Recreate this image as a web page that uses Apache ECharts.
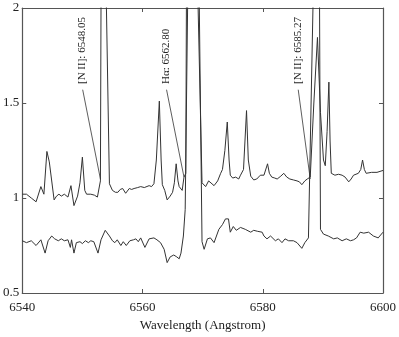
<!DOCTYPE html>
<html>
<head>
<meta charset="utf-8">
<script src="https://cdn.jsdelivr.net/npm/echarts@6/dist/echarts.min.js"></script>
<style>
  html, body { margin: 0; padding: 0; background: #fff; }
  #chart { width: 399px; height: 337px; }
</style>
</head>
<body>
<div id="chart"></div>
<script>
// upper spectrum (offset), wavelength in Angstrom and relative flux
const upperWave = [
  6540.0, 6540.7, 6541.5, 6542.3, 6543.1, 6543.6, 6544.1, 6544.5, 6544.8, 6545.3,
  6545.7, 6546.1, 6546.5, 6547.0, 6547.6, 6548.1, 6548.6, 6549.2, 6549.6, 6550.0,
  6550.4, 6550.7, 6551.4, 6552.0, 6552.5, 6553.0, 6553.1, 6553.5, 6554.0, 6554.5,
  6555.0, 6555.5, 6555.9, 6556.3, 6556.7, 6557.2, 6557.8, 6558.2, 6558.6, 6559.2,
  6559.7, 6560.3, 6561.1, 6561.5, 6561.9, 6562.3, 6562.8, 6563.1, 6563.3, 6563.7,
  6564.1, 6564.6, 6565.0, 6565.3, 6565.6, 6565.9, 6566.1, 6566.6, 6566.9, 6567.2,
  6567.3, 6568.3, 6569.25, 6569.9, 6570.2, 6570.5, 6571.0, 6571.3, 6571.9, 6572.5,
  6573.0, 6573.3, 6573.7, 6574.1, 6574.4, 6574.6, 6575.0, 6575.5, 6576.0, 6576.3,
  6576.8, 6577.3, 6577.6, 6578.0, 6578.5, 6579.0, 6579.6, 6580.2, 6580.8, 6581.1,
  6581.5, 6582.0, 6582.4, 6583.0, 6583.5, 6584.0, 6584.5, 6585.1, 6585.7, 6586.1,
  6586.5, 6587.0, 6587.4, 6587.9, 6588.5, 6589.1, 6589.6, 6590.1, 6590.4, 6590.7,
  6591.0, 6591.2, 6591.4, 6592.0, 6592.6, 6593.2, 6593.7, 6594.3, 6594.7, 6595.1,
  6595.9, 6596.3, 6596.6, 6596.9, 6597.2, 6598.1, 6599.0, 6600.0
];
const upperFlux = [
  1.02, 1.02, 1.00, 0.98, 1.06, 1.02, 1.245, 1.19, 1.20, 0.99,
  1.01, 1.02, 1.01, 1.02, 1.005, 1.065, 0.96, 1.01, 1.08, 1.215,
  1.04, 1.02, 1.02, 1.015, 1.005, 1.09, 2.0, 2.6, 2.0, 1.075,
  1.04, 1.03, 1.03, 1.045, 1.05, 1.025, 1.05, 1.045, 1.05, 1.055,
  1.06, 1.055, 1.065, 1.06, 1.075, 1.2, 1.51, 1.2, 1.07, 1.04,
  0.99, 1.01, 1.03, 1.08, 1.18, 1.09, 1.06, 1.04, 1.11, 1.13,
  2.0, 3.0, 2.0, 1.08, 1.07, 1.06, 1.09, 1.08, 1.065, 1.09,
  1.13, 1.15, 1.25, 1.40, 1.2, 1.12, 1.105, 1.11, 1.10, 1.12,
  1.15, 1.46, 1.2, 1.115, 1.095, 1.10, 1.12, 1.12, 1.18, 1.13,
  1.11, 1.105, 1.10, 1.115, 1.13, 1.11, 1.10, 1.095, 1.09, 1.085,
  1.07, 1.09, 1.10, 1.11, 1.5, 1.845, 1.45, 1.20, 1.17, 1.35,
  1.61, 1.30, 1.13, 1.12, 1.125, 1.12, 1.11, 1.085, 1.10, 1.12,
  1.13, 1.15, 1.20, 1.15, 1.13, 1.135, 1.135, 1.145
];

// lower spectrum
const lowerWave = [
  6540.0, 6540.7, 6541.5, 6542.3, 6543.1, 6543.8, 6544.3, 6544.9, 6545.4, 6546.0,
  6546.5, 6547.0, 6547.6, 6548.0, 6548.2, 6548.6, 6549.0, 6549.6, 6550.0, 6550.5,
  6551.0, 6551.4, 6551.9, 6552.2, 6552.6, 6553.1, 6553.8, 6554.5, 6555.0, 6555.4,
  6555.8, 6556.4, 6556.8, 6557.3, 6557.9, 6558.5, 6558.9, 6559.3, 6559.7, 6560.4,
  6561.1, 6561.9, 6562.4, 6563.0, 6563.6, 6564.1, 6564.6, 6565.2, 6565.7, 6566.1,
  6566.4, 6566.8, 6567.1, 6567.5, 6568.4, 6569.45, 6569.9, 6570.25, 6570.8, 6571.3,
  6571.9, 6572.7, 6573.3, 6573.8, 6574.3, 6574.6, 6575.1, 6575.6, 6576.3, 6577.1,
  6577.4, 6578.0, 6578.5, 6579.1, 6579.9, 6580.2, 6580.7, 6581.3, 6582.1, 6582.6,
  6583.2, 6583.7, 6584.3, 6585.1, 6585.7, 6586.5, 6587.0, 6587.6, 6588.35, 6588.9,
  6589.45, 6589.6, 6590.1, 6590.9, 6591.8, 6592.4, 6593.2, 6593.9, 6594.6, 6595.1,
  6595.6, 6596.2, 6596.8, 6597.6, 6598.4, 6599.2, 6600.0
];
const lowerFlux = [
  0.775, 0.765, 0.775, 0.75, 0.78, 0.71, 0.775, 0.80, 0.785, 0.775,
  0.785, 0.775, 0.78, 0.74, 0.78, 0.71, 0.765, 0.77, 0.76, 0.775,
  0.765, 0.775, 0.77, 0.78, 0.71, 0.78, 0.83, 0.80, 0.775, 0.765,
  0.78, 0.75, 0.77, 0.75, 0.775, 0.78, 0.785, 0.77, 0.79, 0.74,
  0.785, 0.79, 0.78, 0.765, 0.73, 0.66, 0.69, 0.70, 0.69, 0.68,
  0.71, 0.80, 0.94, 2.0, 3.0, 2.0, 0.77, 0.73, 0.785, 0.79,
  0.765, 0.835, 0.86, 0.89, 0.89, 0.82, 0.85, 0.83, 0.845, 0.835,
  0.845, 0.82, 0.83, 0.825, 0.82, 0.80, 0.785, 0.80, 0.775, 0.785,
  0.765, 0.785, 0.775, 0.775, 0.765, 0.735, 0.765, 0.79, 2.0, 2.6,
  2.0, 0.835, 0.81, 0.80, 0.785, 0.79, 0.775, 0.785, 0.775, 0.78,
  0.79, 0.82, 0.815, 0.82, 0.80, 0.79, 0.82
];

// line annotations: label, label anchor (wavelength, flux), arrow tip (wavelength, flux)
const lineLabels = ['[N II]: 6548.05', 'H\u03b1: 6562.80', '[N II]: 6585.27'];
const labelWave = [6549.95, 6563.9, 6585.8];
const labelFlux = [1.60, 1.60, 1.60];
const tipWave = [6553.0, 6566.9, 6587.9];
const tipFlux = [1.10, 1.11, 1.10];

const xTicks = [6540, 6560, 6580, 6600];
const yTicks = [0.5, 1, 1.5, 2];

const zip = (a, b) => a.map((v, i) => [v, b[i]]);

const font = '"Liberation Serif", "DejaVu Serif", serif';
const ink = '#222';
const frame = '#555';

let myChart = echarts.init(document.getElementById('chart'), null, { renderer: 'canvas' });

const axisCommon = {
  axisLine: { show: true, onZero: false, lineStyle: { color: frame, width: 1.2 } },
  axisTick: { show: true, inside: true, length: 4, lineStyle: { color: frame } },
  splitLine: { show: false },
};

let option = {
  animation: false,
  backgroundColor: '#fff',
  grid: { left: 21, right: 16, top: 8, bottom: 39 },
  xAxis: [
    {
      ...axisCommon,
      type: 'value', min: xTicks[0], max: xTicks[xTicks.length - 1], interval: 20,
      position: 'bottom',
      axisLabel: {
        color: ink, fontFamily: font, fontSize: 13, margin: 8,
        formatter: (v) => String(v),
      },
      name: 'Wavelength (Angstrom)', nameLocation: 'middle', nameGap: 26,
      nameTextStyle: { color: ink, fontFamily: font, fontSize: 13 },
    },
    {
      ...axisCommon,
      type: 'value', min: xTicks[0], max: xTicks[xTicks.length - 1], interval: 20,
      position: 'top', axisLabel: { show: false },
    },
  ],
  yAxis: [
    {
      ...axisCommon,
      type: 'value', min: yTicks[0], max: yTicks[yTicks.length - 1], interval: 0.5,
      position: 'left',
      axisLabel: { color: ink, fontFamily: font, fontSize: 13, margin: 3 },
    },
    {
      ...axisCommon,
      type: 'value', min: yTicks[0], max: yTicks[yTicks.length - 1], interval: 0.5,
      position: 'right', axisLabel: { show: false },
    },
  ],
  series: [
    {
      type: 'line', name: 'upper', data: zip(upperWave, upperFlux),
      showSymbol: false, symbol: 'none', clip: true,
      lineStyle: { color: '#333', width: 1 },
      markLine: {
        silent: true, symbol: ['none', 'arrow'], symbolSize: [0, 6],
        lineStyle: { color: '#333', width: 0.8, type: 'solid' },
        label: { show: false },
        data: lineLabels.map((t, i) => [
          { coord: [labelWave[i] + 0.1, labelFlux[i] - 0.03] },
          { coord: [tipWave[i], tipFlux[i]] },
        ]),
      },
    },
    {
      type: 'line', name: 'lower', data: zip(lowerWave, lowerFlux),
      showSymbol: false, symbol: 'none', clip: true,
      lineStyle: { color: '#333', width: 1 },
    },
  ],
};

myChart.setOption(option);

// rotated annotation texts, placed from data coordinates
const texts = lineLabels.map((t, i) => {
  const p = myChart.convertToPixel({ gridIndex: 0 }, [labelWave[i], labelFlux[i]]);
  return {
    type: 'text', x: p[0], y: p[1], rotation: Math.PI / 2, silent: true,
    style: {
      text: t, fill: ink, font: '11px ' + font,
      textAlign: 'left', textVerticalAlign: 'middle',
    },
  };
});
myChart.setOption({ graphic: texts });

window.addEventListener('resize', () => {
  myChart.resize();
});
</script>
</body>
</html>
